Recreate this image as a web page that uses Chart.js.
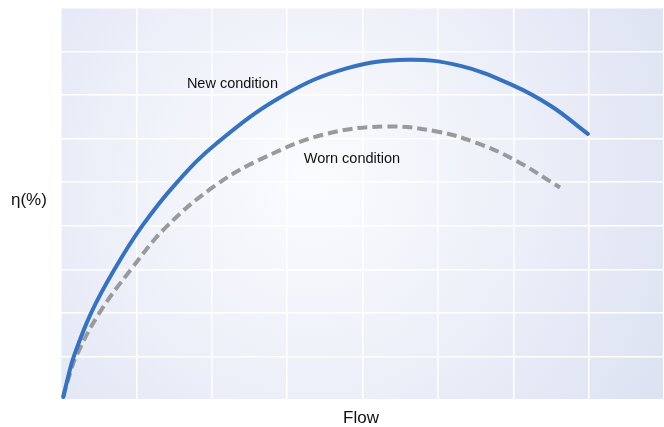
<!DOCTYPE html>
<html>
<head>
<meta charset="utf-8">
<script src="https://cdn.jsdelivr.net/npm/chart.js@4"></script>
<style>
  html, body { margin: 0; padding: 0; background: #fff; }
  #wrap { width: 664px; height: 427px; }
</style>
</head>
<body>
<div id="wrap"><canvas id="chart"></canvas></div>
<script>
// curve readings (flow, efficiency) in grid units
const newFlow = [0.03, 0.09, 0.17, 0.4, 0.71, 1.07, 1.53, 2.07, 2.95, 3.8, 4.6, 5.3, 5.99, 6.5, 6.99];
const newEta  = [0.07, 0.5, 1, 2, 3, 3.98, 4.98, 5.9, 6.99, 7.62, 7.81, 7.67, 7.23, 6.75, 6.11];
const wornFlow = [0.03, 0.1, 0.2, 0.51, 0.93, 1.4, 2.06, 2.7, 3.5, 4.32, 5.0, 5.5, 6.0, 6.62];
const wornEta  = [0.07, 0.5, 1, 2, 3, 3.98, 4.94, 5.57, 6.1, 6.28, 6.16, 5.91, 5.53, 4.88];

const labelText = ['New condition', 'Worn condition'];
const labelX = [1.67, 3.22];
const labelY = [7.25, 5.53];

const toPoints = (xs, ys) => xs.map((x, i) => ({x: x, y: ys[i]}));

const bgPlugin = {
  id: 'bg',
  beforeDraw(chart) {
    const {ctx, chartArea: a} = chart;
    const g = ctx.createRadialGradient(310, 180, 10, 310, 180, 430);
    g.addColorStop(0, '#fafbfe');
    g.addColorStop(0.45, '#eef0f9');
    g.addColorStop(1, '#dbe1f2');
    ctx.save();
    ctx.fillStyle = g;
    ctx.fillRect(a.left, a.top, a.right - a.left, a.bottom - a.top);
    ctx.restore();
  },
  afterDraw(chart) {
    const {ctx, scales: {x, y}} = chart;
    ctx.save();
    ctx.fillStyle = '#111';
    ctx.font = '14.5px "Liberation Sans", Arial, sans-serif';
    ctx.textBaseline = 'middle';
    ctx.textAlign = 'left';
    labelText.forEach((t, i) => ctx.fillText(t, x.getPixelForValue(labelX[i]), y.getPixelForValue(labelY[i])));
    ctx.font = '17px "Liberation Sans", Arial, sans-serif';
    ctx.fillText('η(%)', 11, 200);
    ctx.textAlign = 'center';
    ctx.fillText('Flow', 361, 418);
    ctx.restore();
  }
};

new Chart(document.getElementById('chart'), {
  type: 'scatter',
  data: {
    datasets: [
      {
        data: toPoints(newFlow, newEta),
        showLine: true,
        borderColor: '#3672bd',
        borderWidth: 4,
        pointRadius: 0,
        tension: 0.4,
        borderCapStyle: 'round'
      },
      {
        data: toPoints(wornFlow, wornEta),
        showLine: true,
        borderColor: '#999a9c',
        borderWidth: 4,
        borderDash: [10, 5],
        pointRadius: 0,
        tension: 0.4
      }
    ]
  },
  options: {
    responsive: true,
    maintainAspectRatio: false,
    animation: false,
    layout: { padding: { left: 61, top: 8, bottom: 27, right: 0 } },
    plugins: { legend: { display: false }, tooltip: { enabled: false } },
    scales: {
      x: {
        type: 'linear', min: 0, max: 8,
        ticks: { display: false, stepSize: 1 },
        grid: { color: '#ffffff', lineWidth: 1.5, drawTicks: false },
        border: { display: false }
      },
      y: {
        min: 0, max: 9,
        ticks: { display: false, stepSize: 1 },
        grid: { color: '#ffffff', lineWidth: 1.5, drawTicks: false },
        border: { display: false }
      }
    }
  },
  plugins: [bgPlugin]
});
</script>
</body>
</html>
